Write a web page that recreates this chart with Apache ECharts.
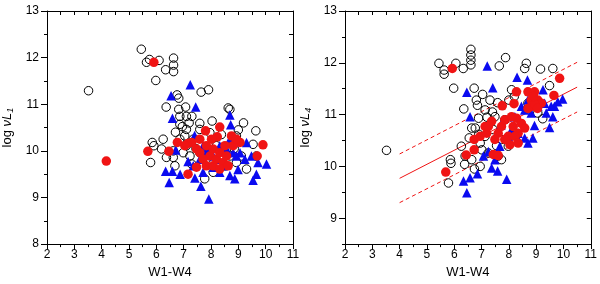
<!DOCTYPE html>
<html><head><meta charset="utf-8">
<script src="https://cdn.jsdelivr.net/npm/echarts@6/dist/echarts.min.js"></script>
<style>html,body{margin:0;padding:0;background:#fff}#c{width:600px;height:284px}</style>
</head><body><div id="c"></div>
<script>
// ---- Left panel: log nu L1 vs W1-W4 ----
const leftOpen = [[3.52,11.29],[5.45,12.18],[5.64,11.90],[5.75,11.96],[6.10,11.94],[5.98,11.51],[6.34,11.74],[6.63,11.99],[6.63,11.84],[6.63,11.70],[7.64,11.26],[7.91,11.31],[6.76,11.20],[6.82,11.13],[6.36,10.94],[6.82,10.89],[7.07,10.94],[7.30,10.74],[7.10,10.74],[6.86,10.74],[7.59,10.59],[6.86,10.57],[8.63,10.92],[8.69,10.89],[9.19,10.60],[9.64,10.43],[8.04,10.64],[5.85,10.18],[5.91,10.11],[6.25,10.25],[6.19,10.04],[5.79,9.75],[6.37,9.86],[6.62,9.86],[6.68,9.68],[7.04,10.32],[7.10,10.11],[7.35,10.25],[7.23,9.89],[7.59,9.96],[6.98,9.96],[7.77,9.40],[8.08,9.54],[8.93,9.75],[9.11,9.89],[9.30,9.61],[9.54,10.14],[9.66,9.89],[8.93,10.32],[8.20,10.11],[8.69,9.89],[7.59,10.46],[7.10,10.46],[7.96,10.39],[8.38,10.35],[6.86,10.25],[6.62,10.00],[7.29,9.72],[7.83,9.82],[8.52,9.68],[6.95,10.52],[7.20,10.60],[6.70,10.40],[7.45,10.05],[8.85,10.05],[9.00,10.45]];
const leftTri = [[7.24,11.42],[6.54,11.18],[7.44,10.94],[6.59,10.70],[8.69,10.77],[8.72,10.56],[7.40,10.33],[6.71,10.02],[6.34,9.56],[6.59,9.56],[6.47,9.32],[6.87,9.50],[7.16,9.77],[7.41,9.42],[7.63,9.24],[7.92,8.97],[7.71,9.54],[8.08,9.65],[8.32,9.54],[8.69,9.47],[8.87,9.40],[8.99,9.60],[9.30,10.18],[9.48,9.89],[9.72,9.75],[10.03,9.72],[9.54,9.37],[9.66,9.50],[7.71,10.11],[7.83,9.96],[8.08,9.89],[8.32,10.11],[8.57,10.04],[8.81,10.18],[9.06,9.96],[9.24,9.82],[8.20,9.82],[7.59,9.82],[8.69,10.25],[8.45,9.68],[8.93,9.89],[7.35,9.68],[7.89,10.07],[8.81,9.96]];
const leftRed = [[5.91,11.90],[4.17,9.78],[5.69,9.99],[6.46,9.99],[6.77,10.18],[7.16,10.16],[7.29,10.18],[7.04,10.11],[7.16,9.50],[7.47,9.65],[7.80,10.43],[8.32,10.51],[8.23,10.30],[8.75,10.32],[9.06,10.18],[9.90,10.13],[9.69,9.89],[7.59,9.96],[7.83,10.11],[7.96,9.89],[8.08,10.04],[8.20,9.82],[8.32,9.96],[8.45,9.75],[8.57,9.89],[7.71,9.82],[7.83,9.68],[8.08,9.68],[8.32,9.61],[8.63,9.68],[8.81,10.11],[8.93,10.25],[7.59,10.25],[8.02,10.25],[8.51,10.11],[7.47,10.04]];

// ---- Right panel: log nu L4 vs W1-W4 ----
const rightOpen = [[3.52,10.31],[5.44,11.99],[5.63,11.86],[5.63,11.78],[6.06,11.99],[6.33,11.89],[6.61,12.26],[6.61,12.15],[6.61,12.05],[6.61,11.96],[5.98,11.51],[7.65,11.94],[7.88,12.10],[8.64,11.99],[9.16,11.88],[9.61,11.89],[9.49,11.56],[8.58,11.89],[6.73,11.51],[6.81,11.28],[6.35,11.11],[7.04,11.39],[7.31,11.28],[7.59,11.23],[7.13,11.09],[6.89,10.93],[6.64,10.74],[6.77,10.74],[8.10,11.48],[8.00,11.28],[9.06,11.03],[9.24,10.92],[6.26,10.39],[5.86,10.13],[5.88,10.06],[5.79,9.68],[6.38,10.04],[6.64,10.13],[6.74,9.95],[6.95,10.00],[7.01,10.32],[7.25,10.26],[7.61,10.20],[7.73,10.13],[7.13,10.58],[7.43,10.71],[7.73,10.52],[7.98,10.39],[6.95,10.45],[8.70,11.22],[8.94,11.28],[7.49,10.96],[7.85,10.90],[6.40,10.20],[6.85,11.18],[7.20,10.95],[7.40,11.05],[6.90,10.62],[7.55,10.40],[6.55,10.55],[8.20,11.35]];
const rightTri = [[7.21,11.94],[7.41,11.52],[8.30,11.72],[8.68,11.67],[6.46,11.43],[6.58,10.96],[6.34,9.72],[6.46,9.49],[6.58,9.78],[6.85,9.86],[7.07,10.20],[7.25,10.29],[7.37,9.97],[7.59,9.91],[7.92,9.75],[7.49,10.13],[7.67,10.39],[7.71,10.80],[8.34,10.52],[8.58,10.55],[8.88,10.55],[8.94,10.79],[9.49,10.75],[9.61,10.96],[9.67,11.16],[9.97,11.30],[9.79,11.25],[9.55,11.16],[9.37,11.03],[9.25,11.48],[8.70,11.28],[8.46,11.16],[8.58,11.09],[8.82,11.03],[9.06,11.16],[8.22,10.96],[8.10,10.71],[8.34,10.64],[8.70,10.45],[7.98,10.58],[9.31,11.22]];
const rightRed = [[5.93,11.89],[5.69,9.89],[6.44,10.22],[6.73,10.32],[6.73,10.52],[6.95,10.58],[7.13,10.77],[7.19,10.64],[7.37,10.87],[7.43,10.23],[7.61,10.21],[7.76,11.17],[8.28,11.44],[8.19,11.21],[8.70,11.44],[8.94,11.44],[9.06,11.28],[8.82,11.16],[8.70,11.12],[9.19,11.22],[9.65,11.37],[9.86,11.70],[7.61,10.64],[7.73,10.77],[7.85,10.90],[7.98,10.58],[8.04,10.42],[8.16,10.77],[8.28,10.93],[8.34,10.64],[8.46,10.83],[8.58,10.74],[8.22,10.58],[7.49,10.52],[7.85,10.52],[8.34,10.45],[8.82,11.28],[7.25,10.77],[8.10,10.96],[8.95,11.20],[9.05,11.12],[8.90,11.35]];

// fit line (solid) and +/- band (dashed), right panel
const fitX = [4, 10.5];
const fitY = [9.77, 11.53];
const upperY = [10.24, 12.01];
const lowerY = [9.30, 11.05];

// axis ranges / ticks
const xRange = [2, 11];
const leftYRange = [8, 13];
const rightYRange = [8.5, 13];
const leftYTicks = [8, 9, 10, 11, 12, 13];
const rightYTicks = [9, 10, 11, 12, 13];

const FONT = 'Liberation Sans, Arial, sans-serif';
const BLUE = '#0a0af0';
const RED = '#f01414';

function xAxes(gi) {
  return [
    {gridIndex: gi, type:'value', min:xRange[0], max:xRange[1], interval:1,
     position:'bottom',
     axisLine:{onZero:false, lineStyle:{color:'#000', width:1}},
     axisTick:{inside:false, length:5, lineStyle:{color:'#000'}},
     minorTick:{show:true, splitNumber:2, length:3, lineStyle:{color:'#000'}},
     axisLabel:{color:'#000', fontSize:12, fontFamily:FONT, margin:5},
     splitLine:{show:false},
     name:'W1-W4', nameLocation:'middle', nameGap:19,
     nameTextStyle:{color:'#000', fontSize:13, fontFamily:FONT}},
    {gridIndex: gi, type:'value', min:xRange[0], max:xRange[1], interval:1,
     position:'top',
     axisLine:{onZero:false, lineStyle:{color:'#000', width:1}},
     axisTick:{inside:true, length:4, lineStyle:{color:'#000'}},
     minorTick:{show:true, splitNumber:2, length:4, lineStyle:{color:'#000'}},
     axisLabel:{show:false}, splitLine:{show:false}}
  ];
}
function yAxes(gi, range, ticks, sub) {
  return [
    {gridIndex: gi, type:'value', min:range[0], max:range[1], interval:0.5,
     position:'left',
     axisLine:{onZero:false, lineStyle:{color:'#000', width:1}},
     axisTick:{inside:false, length:6, customValues:ticks, lineStyle:{color:'#000'}},
     axisLabel:{color:'#000', fontSize:12, fontFamily:FONT, margin:8, customValues:ticks},
     splitLine:{show:false},
     name:'{a|log }{b|νL}{s|' + sub + '}', nameLocation:'middle', nameGap:32, nameRotate:90,
     nameTextStyle:{color:'#000', fontFamily:FONT,
       rich:{a:{fontSize:13, fontFamily:FONT, color:'#000'},
             b:{fontSize:13, fontFamily:FONT, fontStyle:'italic', color:'#000'},
             s:{fontSize:9, fontFamily:FONT, fontStyle:'italic', color:'#000', padding:[6,0,0,0]}}}},
    {gridIndex: gi, type:'value', min:range[0], max:range[1], interval:0.5,
     position:'right',
     axisLine:{onZero:false, lineStyle:{color:'#000', width:1}},
     axisTick:{inside:true, length:4, lineStyle:{color:'#000'}},
     axisLabel:{show:false}, splitLine:{show:false}},
    {gridIndex: gi, type:'value', min:range[0], max:range[1], interval:0.5,
     position:'left',
     axisLine:{show:false},
     axisTick:{inside:false, length:3, lineStyle:{color:'#000'}},
     axisLabel:{show:false}, splitLine:{show:false}}
  ];
}
function scatterSet(xi, yi, open, tri, red) {
  return [
    {type:'scatter', xAxisIndex:xi, yAxisIndex:yi, data:open, symbol:'circle', symbolSize:8.5,
     itemStyle:{color:'rgba(255,255,255,0)', borderColor:'#000', borderWidth:1, opacity:1}, z:3},
    {type:'scatter', xAxisIndex:xi, yAxisIndex:yi, data:tri, symbol:'triangle', symbolSize:9.5,
     itemStyle:{color:BLUE, opacity:1}, z:4},
    {type:'scatter', xAxisIndex:xi, yAxisIndex:yi, data:red, symbol:'circle', symbolSize:9.5,
     itemStyle:{color:RED, opacity:1}, z:5}
  ];
}
function lineSeries(ys, dashed) {
  return {type:'line', xAxisIndex:2, yAxisIndex:3, data:fitX.map((x,i)=>[x, ys[i]]),
    symbol:'none', lineStyle:{color:RED, width:1, type: dashed ? [4,3] : 'solid'}, z:2, silent:true};
}

const chart = echarts.init(document.getElementById('c'), null, {renderer:'canvas'});
chart.setOption({
  animation:false,
  backgroundColor:'#fff',
  grid:[{left:47, top:11, width:246, height:235},
        {left:345, top:11, width:248, height:235}],
  xAxis:[...xAxes(0), ...xAxes(1)],
  yAxis:[...yAxes(0, leftYRange, leftYTicks, '1'), ...yAxes(1, rightYRange, rightYTicks, '4')],
  series:[
    ...scatterSet(0, 0, leftOpen, leftTri, leftRed),
    lineSeries(fitY, false), lineSeries(upperY, true), lineSeries(lowerY, true),
    ...scatterSet(2, 3, rightOpen, rightTri, rightRed)
  ]
});
</script></body></html>
